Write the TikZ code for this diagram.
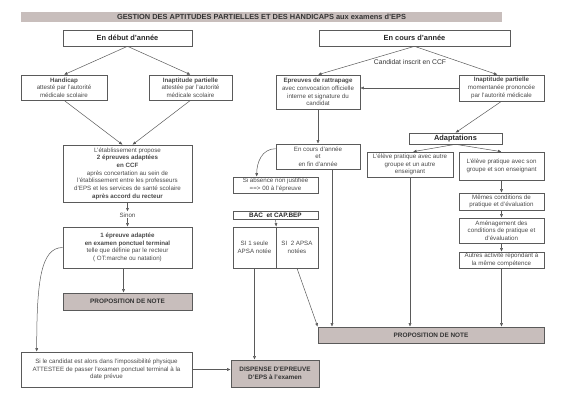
\documentclass[tikz,border=0pt]{standalone}
\usepackage{fontspec}
\setmainfont{Liberation Sans}
\usetikzlibrary{arrows.meta, positioning, calc}
\definecolor{lineGray}{HTML}{5A5A5A}
\definecolor{textGray}{HTML}{4A4A4A}
\definecolor{noteFill}{HTML}{C8BEBC}
\begin{document}
\begin{tikzpicture}[x=1pt, y=-1pt,
    box/.style={rectangle, draw=lineGray, line width=0.6pt, align=center, inner sep=0.5pt, text=textGray, font=\fontsize{6.2}{7.7}\selectfont},
    headbox/.style={box, text=black!85, font=\bfseries\fontsize{7.4}{9}\selectfont},
    notebox/.style={box, fill=noteFill, text=black!80, font=\bfseries\fontsize{6.4}{7.9}\selectfont},
    plain/.style={inner sep=1pt, text=textGray, font=\fontsize{6.2}{7.7}\selectfont},
    link/.style={draw=lineGray, line width=0.5pt, ->},
    >={Latex[length=3.5pt, width=3pt]}
  ]
    \useasboundingbox (0,0) rectangle (566,400);

    % Title
    \node[fill=noteFill, minimum width=481pt, minimum height=10pt, inner sep=0pt, text=black!80, font=\bfseries\fontsize{7.4}{8}\selectfont] (title) at (261.5,17) {GESTION DES APTITUDES PARTIELLES ET DES HANDICAPS aux examens d'EPS};

    % Left column: start of the year
    \node[headbox, minimum width=129pt, minimum height=16pt] (debut) at (127.5,38) {En début d'année};
    \node[box, minimum width=86pt, minimum height=25pt] (handicap) at (64,87.5) {\textbf{Handicap}\\attesté par l'autorité\\médicale scolaire};
    \node[box, minimum width=83pt, minimum height=25pt] (inaptL) at (190.5,87.5) {\textbf{Inaptitude partielle}\\attestée par l'autorité\\médicale scolaire};
    \node[box, minimum width=129pt, minimum height=57pt] (propose) at (127.5,173.5) {L'établissement propose\\\textbf{2 épreuves adaptées}\\\textbf{en CCF}\\après concertation au sein de\\l'établissement entre les professeurs\\d'EPS et les services de santé scolaire\\\textbf{après accord du recteur}};
    \node[plain] (sinon) at (127.5,215) {Sinon};
    \node[box, minimum width=129pt, minimum height=41pt] (epreuve1) at (127.5,247.5) {\textbf{1 épreuve adaptée}\\\textbf{en examen ponctuel terminal}\\telle que définie par le recteur\\( OT:marche ou natation)};
    \node[notebox, minimum width=129pt, minimum height=17pt] (propL) at (127.5,301.5) {PROPOSITION DE NOTE};
    \node[box, minimum width=171pt, minimum height=35pt] (sicand) at (106.5,369.5) {Si le candidat est alors dans l'impossibilité physique\\ATTESTEE de passer l'examen ponctuel terminal à la\\date prévue};
    \node[notebox, minimum width=88pt, minimum height=27pt] (dispense) at (275,373.5) {DISPENSE D'EPREUVE\\D'EPS à l'examen};

    % Right column: during the year
    \node[headbox, minimum width=191pt, minimum height=16pt] (cours) at (414.5,38) {En cours d'année};
    \node[plain, text=black!80, font=\fontsize{6.8}{8}\selectfont] (inscrit) at (410,62) {Candidat inscrit en CCF};
    \node[box, minimum width=84pt, minimum height=34pt] (rattrapage) at (318,92) {\textbf{Epreuves de rattrapage}\\avec convocation officielle\\interne et signature du\\candidat};
    \node[box, minimum width=85pt, minimum height=26pt] (inaptR) at (501.5,88) {\textbf{Inaptitude partielle}\\momentanée prononcée\\par l'autorité médicale};
    \node[box, minimum width=84pt, minimum height=25pt] (encoursfin) at (318,156.5) {En cours d'année\\et\\en fin d'année};
    \node[box, minimum width=85pt, minimum height=16pt] (absence) at (275.5,185) {Si absence non justifiée\\==> 00 à l'épreuve};
    \node[box, font=\bfseries\fontsize{6.4}{7}\selectfont, text=black!85, minimum width=85pt, minimum height=8pt, inner sep=0pt] (bac) at (275.5,215) {BAC\ \ et CAP.BEP};
    \node[box, minimum width=43pt, minimum height=41pt] (split1) at (254.5,247.5) {SI 1 seule\\APSA notée};
    \node[box, minimum width=42pt, minimum height=41pt] (split2) at (297,247.5) {SI\ \ 2 APSA\\notées};

    \node[headbox, minimum width=93pt, minimum height=11pt, inner sep=0pt] (adapt) at (455.5,138.5) {Adaptations};
    \node[box, minimum width=86pt, minimum height=25pt] (autreg) at (410,164.5) {L'élève pratique avec autre\\groupe et un autre\\enseignant};
    \node[box, minimum width=85pt, minimum height=28pt] (song) at (501.5,166) {L'élève pratique avec son\\groupe et son enseignant};
    \node[box, minimum width=85pt, minimum height=17pt] (memes) at (501.5,201.5) {Mêmes conditions de\\pratique et d'évaluation};
    \node[box, minimum width=85pt, minimum height=25pt] (amenag) at (501.5,230.5) {Aménagement des\\conditions de pratique et\\d'évaluation};
    \node[box, minimum width=85pt, minimum height=16pt] (autres) at (501.5,260) {Autres activité répondant à\\la même compétence};
    \node[notebox, minimum width=226pt, minimum height=16pt] (propR) at (431,335) {PROPOSITION DE NOTE};

    % Arrows, left column
    \draw[link] (debut.south) -- (handicap.north);
    \draw[link] (debut.south) -- (inaptL.north);
    \draw[link] (handicap.south) -- ([xshift=-5pt]propose.north);
    \draw[link] (inaptL.south) -- ([xshift=5pt]propose.north);
    \draw[link] (propose.south) -- (sinon.north);
    \draw[link] (sinon.south) -- (epreuve1.north);
    \draw[link] ([xshift=-4pt]epreuve1.south) -- ([xshift=-4pt]propL.north);
    \draw[link] (epreuve1.west) .. controls +(-22,0) and +(0,-70) .. ([xshift=16pt]sicand.north west);
    \draw[link] (sicand.east) -- (sicand.east -| dispense.west);

    % Arrows, right column
    \draw[link] (cours.south) -- (rattrapage.north);
    \draw[link] (cours.south) -- ([xshift=-4pt]inaptR.north);
    \draw[link] (inaptR.west) -- (inaptR.west -| rattrapage.east);
    \draw[link] (inaptR.south) -- (adapt.north);
    \draw[link] (rattrapage.south) -- (encoursfin.north);
    \draw[link] ([yshift=-5pt]encoursfin.north west) .. controls +(-14,0) and +(0,-14) .. ([xshift=24pt]absence.north west);
    \draw[link] ([xshift=14pt]encoursfin.south) -- ([xshift=14pt]encoursfin.south |- propR.north);
    \draw[link] (bac.south) -- (split1.north east);
    \draw[link] (split1.south) -- (split1.south |- dispense.north);
    \draw[link] (split2.south) -- (propR.north west);
    \draw[link] (adapt.south) -- ([xshift=3pt]autreg.north);
    \draw[link] (adapt.south) -- (song.north);
    \draw[link] (autreg.south) -- (autreg.south |- propR.north);
    \draw[link] (song.south) -- (memes.north);
    \draw[link] (memes.south) -- (amenag.north);
    \draw[link] (amenag.south) -- (autres.north);
    \draw[link] (autres.south) -- (autres.south |- propR.north);

  \end{tikzpicture}
\end{document}
